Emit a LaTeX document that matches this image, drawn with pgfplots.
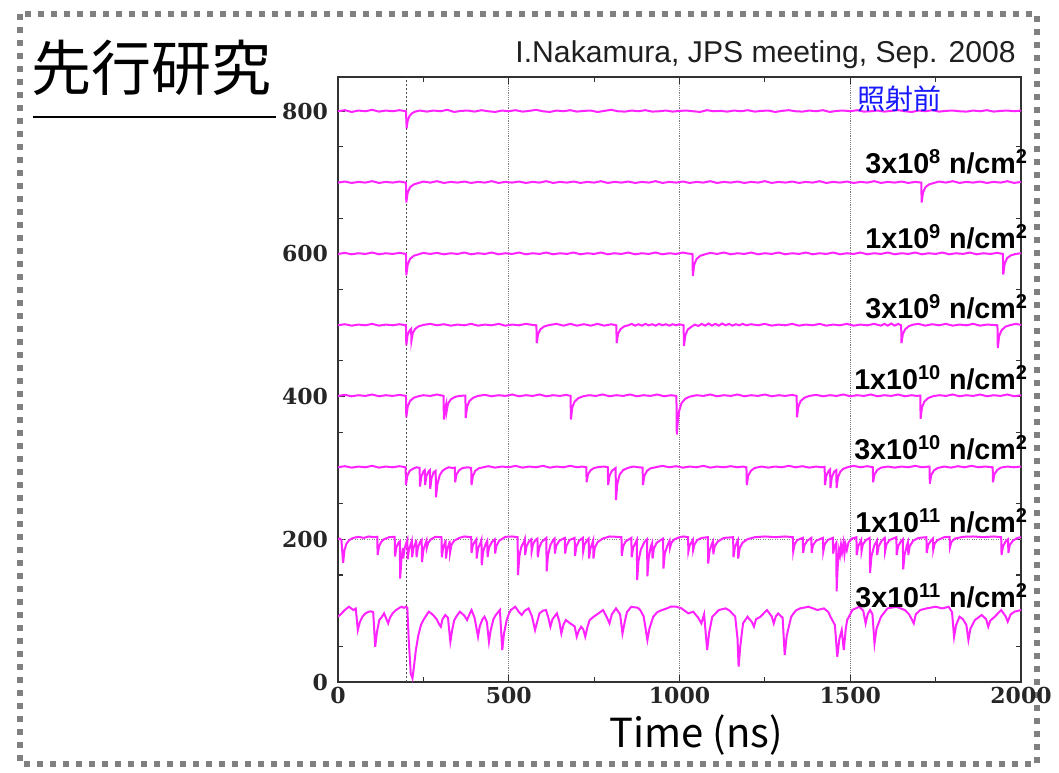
\documentclass[border=0pt]{standalone}
\usepackage{pgfplots}
\pgfplotsset{compat=1.18}
\usepackage{fontspec}
\setmainfont{Liberation Sans}
\newfontfamily\cjk{Noto Sans CJK JP}
\newfontfamily\tickfont{DejaVu Serif}
\definecolor{trace}{RGB}{255,35,255}
\definecolor{framegray}{RGB}{128,128,128}
\definecolor{axisgray}{RGB}{50,50,50}
\definecolor{labelblue}{RGB}{25,25,255}

\begin{document}
\begin{tikzpicture}
% slide frame, title and captions (pixel-like units, y downwards)
\begin{scope}[x=0.75pt,y=-0.75pt]
\path[use as bounding box] (0,0) rectangle (1059,772);
\draw[framegray, line width=4.5pt, dash pattern=on 4.5pt off 5.25pt] (20,14) rectangle (1037,764);
\node[anchor=west, font=\cjk\fontsize{45}{45}\selectfont, inner sep=0] at (31,68) {先行研究};
\draw[line width=1.5pt] (33,117) -- (276,117);
\node[anchor=east, font=\fontsize{22.6}{22.6}\selectfont, text=black!88, inner sep=0] at (1016,55) {I.Nakamura, JPS meeting, Sep. 2008};
\node[anchor=center, font=\cjk\fontsize{30}{30}\selectfont, inner sep=0] at (696,735) {Time (ns)};
\end{scope}

\begin{axis}[
  at={(253.5pt,-511.5pt)}, anchor=south west,
  scale only axis, width=512.25pt, height=453.75pt,
  xmin=0, xmax=2000, ymin=0, ymax=848,
  xtick={0,500,1000,1500,2000}, xticklabels={0,500,1000,1500,2000},
  ytick={0,200,400,600,800}, yticklabels={0,200,400,600,800},
  minor xtick={250,750,1250,1750},
  minor ytick={50,150,250,350,450,550,650,750},
  tick align=inside, major tick length=5pt, minor tick length=3.5pt,
  tick style={axisgray, line width=0.8pt},
  axis line style={axisgray, line width=1.3pt},
  xmajorgrids, grid style={densely dotted, gray, line width=0.8pt},
  tick label style={font=\tickfont\bfseries\fontsize{16.5}{16.5}\selectfont, text=black!85},
  yticklabel style={xshift=-4pt},
  clip=true,
]
% reference lines
\addplot[gray, densely dotted, line width=0.8pt] coordinates {(0,200) (2000,200)};
\addplot[black!70, dash pattern=on 1.5pt off 1.5pt, line width=1.1pt] coordinates {(200,0) (200,848)};

% before irradiation
\addplot[trace, line width=1.5pt] coordinates {
(0,800)(20,801.5)(40,799)(60,801)(80,800)(100,802)(120,799.5)(140,801)(160,800)(180,801.5)(199,800)(201,776)(204,787)(209,793)(216,797)(226,799.5)(240,801)(260,799.5)(280,801)(300,800)(320,802)(340,799)(360,800.5)(380,801)(400,799.5)(420,801.5)(440,800)(460,799)(480,801)(500,800)(520,801.5)(540,799.5)(560,800.5)(580,802)(600,800)(620,799)(640,801)(660,800)(680,801.5)(700,799.5)(720,800.5)(740,801)(760,799)(780,800.5)(800,802)(820,800)(840,799.5)(860,801)(880,800)(900,801.5)(920,799.5)(940,800)(960,801)(980,799.5)(1000,800.5)(1020,801)(1040,800)(1060,799)(1080,801.5)(1100,800)(1120,800.5)(1140,799.5)(1160,801)(1180,800)(1200,801.5)(1220,799.5)(1240,800.5)(1260,801)(1280,799)(1300,800.5)(1320,801.5)(1340,800)(1360,799.5)(1380,801)(1400,800)(1420,801.5)(1440,799)(1460,800.5)(1480,801)(1500,800)(1520,801.5)(1540,799.5)(1560,800)(1580,801)(1600,799.5)(1620,800.5)(1640,801.5)(1660,800)(1680,799)(1700,801)(1720,800)(1740,801.5)(1760,799.5)(1780,800.5)(1800,801)(1820,800)(1840,799.5)(1860,801)(1880,800)(1900,801.5)(1920,799.5)(1940,800.5)(1960,801)(1980,800)(2000,801)
};
% 3x10^8
\addplot[trace, line width=1.5pt] coordinates {
(0,700)(20,701.5)(40,699.5)(60,701)(80,700)(100,702)(120,699.5)(140,701)(160,700)(180,701.5)(199,700)(200,672)(204,686)(211,693.5)(222,697.5)(236,699.5)(250,701.5)(270,700)(290,702)(310,699.5)(330,701)(350,700)(370,701.5)(390,699.5)(410,701)(430,700)(450,702)(470,699.5)(490,701)(510,700)(530,701.5)(550,699.5)(570,701)(590,700)(610,702)(630,699.5)(650,701)(670,700)(690,701.5)(710,699.5)(730,701)(750,700)(770,702)(790,699.5)(810,701)(830,700)(850,701.5)(870,699.5)(890,701)(910,700)(930,702)(950,699.5)(970,701)(990,700)(1010,701.5)(1030,699.5)(1050,701)(1070,700)(1090,702)(1110,699.5)(1130,701)(1150,700)(1170,701.5)(1190,699.5)(1210,701)(1230,700)(1250,702)(1270,699.5)(1290,701)(1310,700)(1330,701.5)(1350,699.5)(1370,701)(1390,700)(1410,702)(1430,699.5)(1450,701)(1470,700)(1490,701.5)(1510,699.5)(1530,701)(1550,700)(1570,702)(1590,699.5)(1610,701)(1630,700)(1650,701.5)(1670,699.5)(1690,701)(1708,700)(1709,672)(1713,686)(1720,693.5)(1731,697.5)(1745,699.5)(1760,701.5)(1780,700)(1800,702)(1820,699.5)(1840,701)(1860,700)(1880,701.5)(1900,699.5)(1920,701)(1940,700)(1960,702)(1980,699.5)(2000,701)
};
% 1x10^9
\addplot[trace, line width=1.5pt] coordinates {
(0,600)(20,601.5)(40,599.5)(60,601)(80,600)(100,602)(120,599.5)(140,601)(160,600)(180,601.5)(199,600)(200,570)(204,585)(211,593)(222,597.5)(236,599.5)(250,601.5)(270,600)(290,601.5)(310,599.5)(330,601)(350,600)(370,602)(390,599.5)(410,601)(430,600)(450,602)(470,599.5)(490,601)(510,600)(530,602)(550,599.5)(570,601)(590,600)(610,602)(630,599.5)(650,601)(670,600)(690,602)(710,599.5)(730,601)(750,600)(770,602)(790,599.5)(810,601)(830,600)(850,602)(870,599.5)(890,601)(910,600)(930,602)(950,599.5)(970,601)(990,600)(1010,602)(1025,600.5)(1038,600)(1039,569)(1043,585)(1050,593)(1061,597.5)(1075,599.5)(1090,601.5)(1110,600)(1130,602)(1150,599.5)(1170,601)(1190,600)(1210,602)(1230,599.5)(1250,601)(1270,600)(1290,602)(1310,599.5)(1330,601)(1350,600)(1370,602)(1390,599.5)(1410,601)(1430,600)(1450,602)(1470,599.5)(1490,601)(1510,600)(1530,602)(1550,599.5)(1570,601)(1590,600)(1610,602)(1630,599.5)(1650,601)(1670,600)(1690,602)(1710,599.5)(1730,601)(1750,600)(1770,602)(1790,599.5)(1810,601)(1830,600)(1850,602)(1870,599.5)(1890,601)(1910,600)(1930,601.5)(1947,600)(1948,571)(1952,586)(1959,594)(1970,598)(1985,600)(2000,601)
};
% 3x10^9
\addplot[trace, line width=1.5pt] coordinates {
(0,500)(20,501.5)(40,499.5)(60,501)(80,500)(100,502)(120,499.5)(140,501)(160,500)(180,501.5)(199,500)(200,472)(204,487)(210,493)(214,495)(215,478)(219,489)(226,495)(236,498.5)(250,500.5)(270,502)(290,500)(310,501.5)(330,499.5)(350,501)(370,500)(390,502)(410,499.5)(430,501)(450,500)(470,502)(490,499.5)(510,501)(530,500)(550,502)(570,500.5)(581,500)(582,475)(586,488)(593,494.5)(604,498.5)(620,500.5)(640,502)(660,499.5)(680,502)(700,499.5)(720,501.5)(740,499.5)(760,502)(780,499.5)(800,501.5)(815,500)(816,475)(820,488)(827,494.5)(838,498.5)(850,500)(860,502)(870,499.5)(880,501.5)(890,499.5)(900,502)(910,500)(920,501.5)(930,499.5)(940,502)(950,500)(960,501.5)(970,499.5)(980,501.5)(990,500)(1000,501.5)(1012,500)(1013,471)(1017,486)(1024,494)(1035,498)(1045,501)(1055,499)(1065,502)(1075,499.5)(1085,502.5)(1095,499.5)(1105,502)(1115,499.5)(1125,502.5)(1135,500)(1145,502)(1155,499.5)(1165,501.5)(1175,500)(1185,502)(1195,500)(1210,501.5)(1230,500)(1250,502)(1270,499.5)(1290,501)(1310,500)(1330,502)(1350,499.5)(1370,501)(1390,500)(1410,502)(1430,499.5)(1450,501)(1470,500)(1490,502)(1510,499.5)(1530,501)(1550,500)(1570,502)(1590,499.5)(1600,502)(1610,499.5)(1620,502.5)(1630,499.5)(1640,502)(1649,500)(1650,475)(1654,488)(1661,494.5)(1672,499)(1685,501)(1700,502)(1720,499.5)(1740,501.5)(1760,500)(1780,502)(1800,499.5)(1820,501)(1840,500)(1860,502)(1880,499.5)(1900,501)(1920,500.5)(1931,500)(1932,468)(1936,485)(1943,493)(1954,498)(1970,500.5)(1985,502)(2000,500.5)
};
% 1x10^10
\addplot[trace, line width=1.5pt] coordinates {
(0,401)(20,402.5)(40,400.5)(60,402)(80,401)(100,403)(120,400.5)(140,402)(160,401)(180,402.5)(199,401)(200,371)(204,386)(211,394)(222,398.5)(235,400.5)(250,402)(270,401)(290,403)(309,401)(310,368)(314,384)(317,390)(318,379)(322,390)(330,396)(342,399.5)(355,401)(373,401.5)(374,370)(378,386)(385,394)(396,398.5)(410,401)(430,402.5)(450,400.5)(470,402)(490,401)(510,403)(530,400.5)(550,402)(570,401)(590,403)(610,400.5)(630,402)(650,401)(668,402.5)(681,401)(682,368)(686,385)(693,393)(704,398)(718,400.5)(735,402)(755,401)(775,403)(795,400.5)(815,402)(835,401)(855,403)(875,400.5)(895,402)(915,401)(935,403)(955,400.5)(975,402)(990,401)(991,400)(992,347)(995,365)(999,380)(1006,391)(1017,397)(1030,400)(1050,402)(1070,401)(1090,403)(1110,400.5)(1130,402)(1150,401)(1170,403)(1190,400.5)(1210,402)(1230,401)(1250,403)(1270,400.5)(1290,402)(1310,401)(1330,402.5)(1343,401)(1344,371)(1348,386)(1355,394)(1366,398.5)(1380,401)(1400,402.5)(1420,400.5)(1440,402)(1460,401)(1480,403)(1500,400.5)(1520,402)(1540,401)(1560,403)(1580,400.5)(1600,402)(1620,401)(1640,403)(1660,400.5)(1680,402)(1694,401)(1705,401.5)(1706,369)(1710,385)(1717,393)(1728,398)(1742,400.5)(1760,402)(1780,401)(1800,403)(1820,400.5)(1840,402)(1860,401)(1880,403)(1900,400.5)(1920,402)(1940,401)(1960,403)(1980,400.5)(2000,402)
};
% 3x10^10
\addplot[trace, line width=1.5pt] coordinates {
(0,301)(20,302.5)(40,300.5)(60,302)(80,301)(100,303)(120,300.5)(140,302)(160,301)(180,302.5)(198,301)(199,276)(203,289)(210,296)(220,299)(230,301)(239,300)(240,274)(244,288)(250,295)(254,297)(255,276)(259,289)(265,295)(269,297)(270,271)(274,286)(280,294)(286,296)(287,259)(291,277)(298,290)(306,296)(315,299)(325,301)(335,300)(342,300.5)(343,280)(347,291)(355,297)(365,300)(380,301)(390,300)(391,276)(395,289)(402,296)(412,299.5)(425,301)(440,302.5)(460,300.5)(480,302)(500,301)(520,303)(540,300.5)(560,302)(580,301)(600,303)(620,300.5)(640,302)(660,301)(680,303)(700,301)(715,302)(727,301)(728,280)(732,291)(740,297)(750,300)(765,301.5)(780,302)(790,301)(791,276)(795,289)(802,296)(810,299)(813,300)(814,255)(818,278)(825,291)(835,297)(848,300)(865,302)(880,301)(892,300.5)(893,276)(897,289)(905,296)(915,299.5)(930,301)(950,303)(970,301)(990,302.5)(1010,300.5)(1030,302)(1050,301)(1070,303)(1090,300.5)(1110,302)(1130,301)(1150,302.5)(1170,301)(1185,302)(1196,301)(1197,276)(1201,289)(1209,296)(1220,300)(1240,302)(1260,300.5)(1280,302)(1300,301)(1320,303)(1340,301)(1360,302.5)(1380,300.5)(1400,302)(1415,301)(1425,301.5)(1426,276)(1430,289)(1437,296)(1441,298)(1442,272)(1446,287)(1453,295)(1459,297)(1460,272)(1464,287)(1471,295)(1480,299)(1495,301.5)(1510,303)(1530,301)(1550,302.5)(1566,301)(1567,280)(1571,291)(1579,297)(1590,300.5)(1610,302)(1630,300.5)(1650,302)(1670,301)(1690,303)(1710,301)(1732,302)(1733,278)(1737,290)(1745,296.5)(1756,300)(1775,302)(1795,300.5)(1815,302.5)(1835,301)(1855,303)(1875,301)(1895,302)(1917,301)(1918,280)(1922,291)(1930,297)(1941,300.5)(1960,302)(1980,301)(2000,302)
};
% 1x10^11
\addplot[trace, line width=1.5pt] coordinates {
(0,200)(5,201)(10,199)(15,167)(19,185)(25,194)(33,199)(45,202)(60,203.5)(75,202)(90,204)(105,203)(115,203.5)(116,178)(120,190)(126,196)(134,200)(150,203)(166,203.5)(167,176)(171,189)(177,195)(181,197)(182,145)(186,174)(190,188)(191,173)(195,187)(200,195)(203,199)(204,172)(208,186)(214,195)(216,198)(217,175)(221,188)(228,196)(229,199)(230,175)(234,188)(240,196)(245,199)(246,168)(250,185)(256,194)(259,198)(260,188)(264,195)(272,200)(285,203.5)(303,203)(304,175)(308,189)(314,196)(315,199)(316,173)(320,187)(326,194)(327,198)(328,181)(332,192)(340,198)(355,202)(370,204)(390,203)(391,181)(395,192)(402,198)(405,200)(406,173)(410,187)(418,196)(420,199)(421,164)(425,183)(432,193)(437,198)(438,175)(442,188)(450,196)(459,200)(460,180)(464,191)(472,198)(490,203.5)(510,204)(526,203)(527,150)(531,176)(537,190)(545,197)(547,200)(548,178)(552,190)(559,197)(566,200)(567,183)(571,193)(578,199)(584,201)(585,175)(589,188)(596,196)(605,200)(610,202)(611,155)(615,178)(622,192)(630,199)(634,201)(635,180)(639,191)(648,198)(664,202)(665,180)(669,191)(678,199)(693,202)(694,177)(698,190)(706,198)(717,202)(718,183)(722,193)(730,199)(734,201)(735,173)(739,187)(745,195)(747,198)(748,173)(752,188)(760,196)(775,201)(795,204)(815,203.5)(830,203)(831,177)(835,190)(842,197)(859,202)(860,175)(864,188)(872,196)(875,199)(876,143)(880,170)(887,186)(897,196)(905,200)(906,148)(910,175)(916,190)(920,195)(921,173)(925,187)(933,195)(945,199)(952,201)(953,159)(957,180)(965,192)(971,198)(972,188)(976,195)(985,200)(1000,203)(1012,204)(1025,203)(1026,183)(1030,192)(1038,198)(1039,199)(1040,185)(1044,193)(1052,199)(1065,202)(1083,203)(1084,166)(1088,184)(1095,194)(1098,197)(1099,179)(1103,190)(1112,197)(1130,202)(1157,203)(1158,175)(1162,188)(1168,196)(1171,199)(1172,173)(1176,187)(1184,195)(1198,200)(1220,203)(1250,204)(1280,203)(1310,204)(1332,203)(1333,183)(1337,193)(1345,199)(1361,202)(1362,181)(1366,192)(1374,198)(1386,202)(1387,181)(1391,192)(1400,198)(1420,202)(1421,183)(1425,193)(1434,199)(1449,202)(1450,180)(1454,191)(1459,195)(1460,127)(1463,160)(1467,185)(1470,178)(1473,192)(1476,182)(1480,195)(1483,180)(1486,193)(1490,185)(1495,196)(1505,201)(1518,203)(1519,178)(1523,190)(1530,197)(1532,199)(1533,183)(1537,193)(1546,199)(1557,202)(1558,153)(1562,176)(1570,191)(1578,198)(1579,178)(1583,190)(1592,198)(1601,202)(1602,183)(1606,193)(1615,199)(1635,203)(1636,178)(1640,190)(1648,197)(1654,200)(1655,158)(1659,178)(1666,192)(1669,196)(1670,178)(1674,190)(1684,198)(1700,202)(1723,203)(1724,181)(1728,192)(1736,198)(1742,201)(1743,185)(1747,194)(1756,199)(1775,203)(1791,203.5)(1792,189)(1796,196)(1806,201)(1830,203.5)(1860,204)(1890,203)(1920,204)(1942,203)(1943,178)(1947,190)(1955,197)(1962,200)(1963,181)(1967,192)(1976,198)(1990,202)(2000,203)
};
% 3x10^11
\addplot[trace, line width=1.5pt] coordinates {
(0,91.5)(10,96)(20,101)(32,105.5)(45,100.9)(52,103)(58,73)(64,84)(72,92)(80,96)(90,98.6)(96,99)(103,98)(109,49.5)(114,70)(121,86.9)(128,91)(135,96.2)(142,88)(147,82.2)(152,90)(160,96.2)(170,100.9)(180,104)(186,105.5)(193,104)(199,105.5)(203,104)(207,60)(213,12)(218,5.2)(222,20)(228,44.8)(235,65)(243,80)(250,86.9)(258,93)(266,98.6)(273,96.2)(280,93)(289,88)(295,82)(301,77.5)(306,88)(314,93.9)(322,90)(329,56.5)(334,72)(340,86)(346,91.5)(357,98.6)(370,93)(378,86.9)(385,95)(391,100.9)(400,90)(410,63.5)(415,78)(423,88)(429,91.5)(436,84)(442,56.5)(447,72)(455,88)(462,93.9)(474,100.9)(481,44.8)(486,68)(494,86.9)(500,95)(506,100.9)(519,105.5)(530,98)(538,93.9)(547,100)(558,103.2)(568,92)(577,72.8)(583,84)(590,96.2)(600,100)(609,100.9)(616,90)(622,77.5)(628,88)(641,96.2)(648,85)(654,68.1)(660,80)(667,86.9)(680,82.2)(693,78)(699,63.5)(705,72)(712,77.5)(718,74)(724,63.5)(731,78)(737,86.9)(750,92)(763,96.2)(776,100.9)(786,92)(795,82.2)(802,95)(814,103.2)(826,95)(833,68.1)(840,85)(846,98)(859,105.5)(878,104)(885,100.9)(895,92)(906,58.8)(912,75)(923,91.5)(935,98)(949,100.9)(962,103)(974,105.5)(991,105.5)(1006,103.2)(1015,100)(1026,96.2)(1040,98.6)(1055,90)(1064,82.2)(1072,95)(1081,44.8)(1087,70)(1096,91.5)(1115,100.9)(1135,103.2)(1147,100)(1154,96.2)(1163,92)(1170,60)(1173,21.5)(1178,50)(1186,82.2)(1199,91.5)(1205,88)(1212,84)(1218,77.5)(1224,88)(1237,91.5)(1256,100.9)(1270,92)(1276,82.2)(1282,92)(1289,96.2)(1302,90)(1308,37.8)(1314,65)(1327,91.5)(1340,100)(1353,103.2)(1378,105.5)(1404,100.9)(1423,103.2)(1436,98)(1442,91.5)(1455,80)(1462,35.5)(1468,60)(1475,72.8)(1481,44.8)(1487,75)(1491,86.9)(1500,95)(1506,100.9)(1526,105.5)(1538,100)(1545,82.2)(1551,95)(1558,100.9)(1565,95)(1571,54.1)(1577,75)(1590,91.5)(1609,103.2)(1635,105.5)(1660,100.9)(1672,95)(1680,88)(1686,82.2)(1692,95)(1705,100.9)(1724,103.2)(1750,105.5)(1769,103.2)(1788,105.5)(1798,98)(1804,63.5)(1810,80)(1820,91.5)(1830,88)(1840,80)(1846,58.8)(1852,75)(1865,86.9)(1885,93.9)(1898,88)(1904,77.5)(1910,86)(1923,91.5)(1936,98)(1942,100.9)(1955,92)(1961,84.5)(1970,95)(1981,98.6)(2000,100.9)
};
\end{axis}

% fluence captions beside each trace
\begin{scope}[x=0.75pt,y=-0.75pt, every node/.style={inner sep=0, font=\bfseries\fontsize{21.5}{21.5}\selectfont}]
\node[anchor=west, text=labelblue, font=\cjk\fontsize{21}{21}\selectfont] at (857,99) {照射前};
\node[anchor=east] at (1028,162) {3x10\textsuperscript{8} n/cm\textsuperscript{2}};
\node[anchor=east] at (1028,237) {1x10\textsuperscript{9} n/cm\textsuperscript{2}};
\node[anchor=east] at (1028,307) {3x10\textsuperscript{9} n/cm\textsuperscript{2}};
\node[anchor=east] at (1028,378) {1x10\textsuperscript{10} n/cm\textsuperscript{2}};
\node[anchor=east] at (1028,448) {3x10\textsuperscript{10} n/cm\textsuperscript{2}};
\node[anchor=east] at (1028,521) {1x10\textsuperscript{11} n/cm\textsuperscript{2}};
\node[anchor=east] at (1028,596) {3x10\textsuperscript{11} n/cm\textsuperscript{2}};
\end{scope}
\end{tikzpicture}
\end{document}
